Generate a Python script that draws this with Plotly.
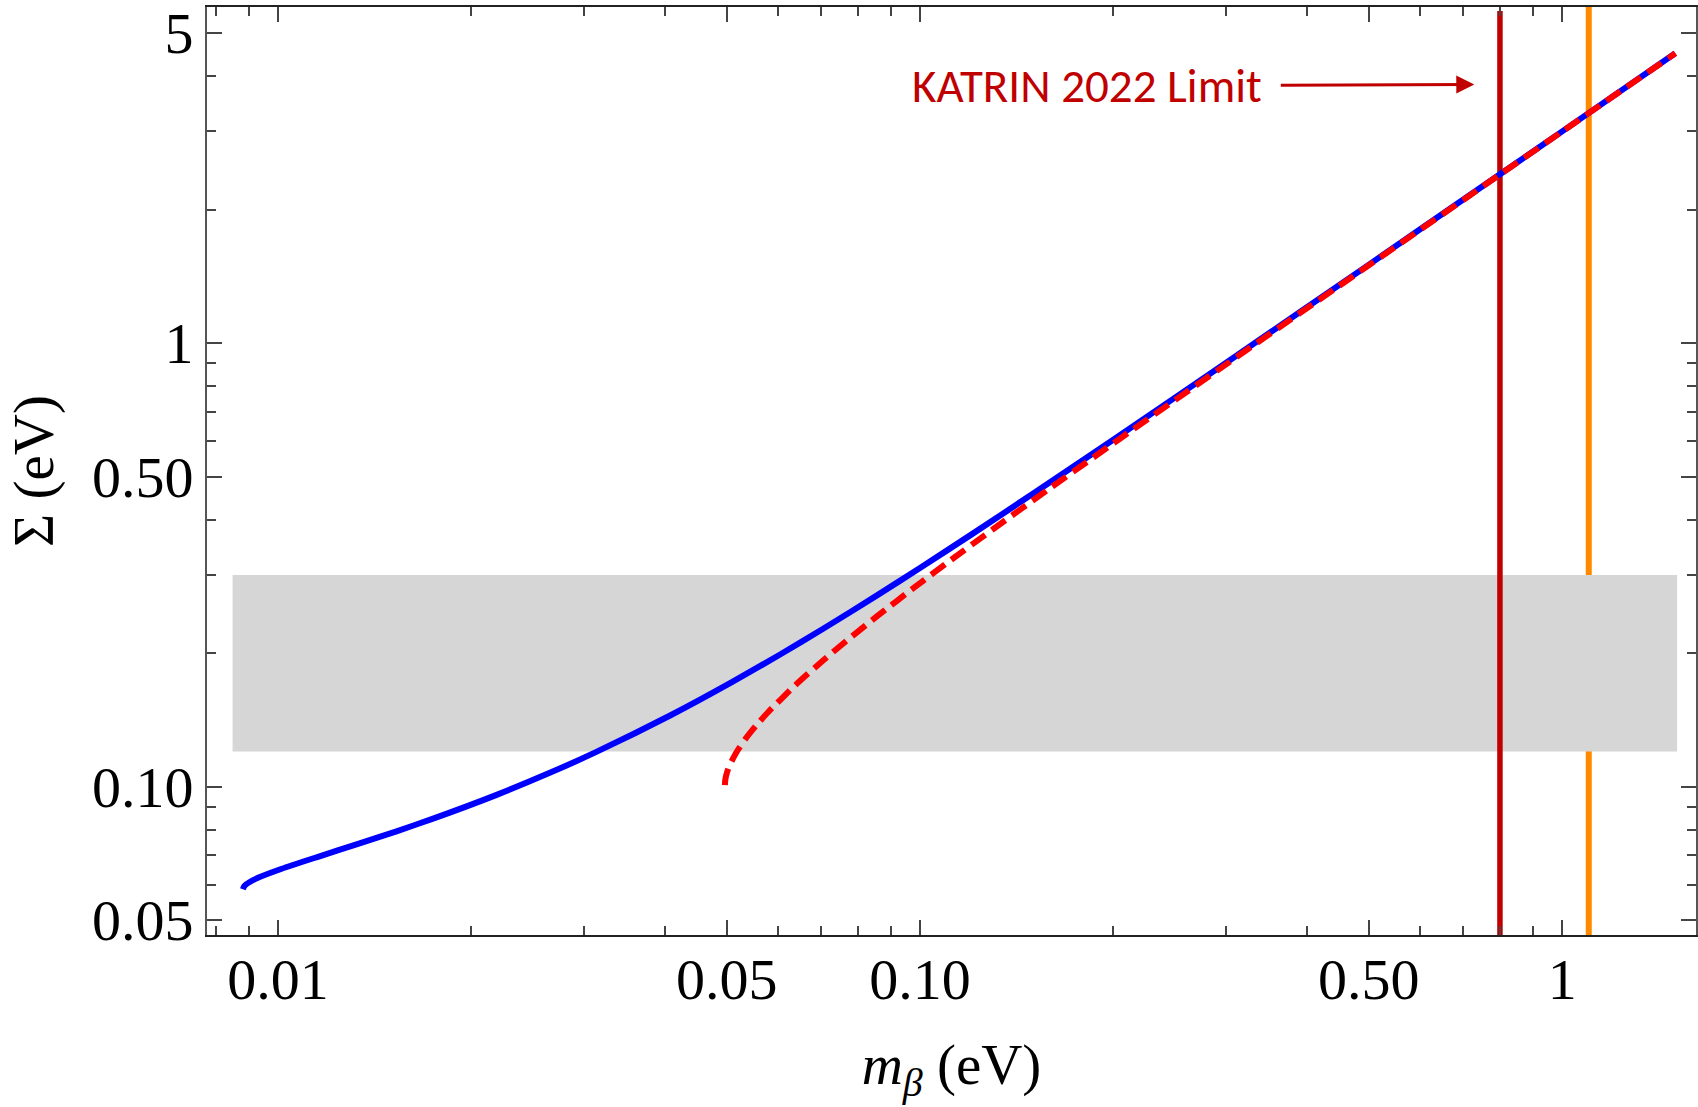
import math
import plotly.graph_objects as go

# ---- data ----
# Normal ordering: m_beta (eV) vs Sigma (eV)
m_beta_NO = [0.00882, 0.00887, 0.00904, 0.00931, 0.01014, 0.01158, 0.01333, 0.01530,
             0.01740, 0.02186, 0.02651, 0.03127, 0.04096, 0.05077, 0.06064, 0.07055,
             0.08546, 0.10039, 0.12032, 0.15026, 0.20019, 0.30013, 0.50008, 0.80005,
             1.00004, 1.50003]
sigma_NO = [0.05866, 0.05973, 0.06093, 0.06226, 0.06525, 0.06952, 0.07422, 0.07925,
            0.08452, 0.09565, 0.10736, 0.11954, 0.14496, 0.17146, 0.19872, 0.22656,
            0.26906, 0.31218, 0.37031, 0.45836, 0.60634, 0.90426, 1.50257, 2.40161,
            3.00129, 4.50086]

# Inverted ordering
m_beta_IO = [0.04968, 0.04969, 0.04972, 0.04980, 0.04993, 0.05024, 0.05067, 0.05189,
             0.05355, 0.05561, 0.05803, 0.06378, 0.07048, 0.07790, 0.08584, 0.09845,
             0.11166, 0.12988, 0.15801, 0.20608, 0.30409, 0.50246, 0.80154, 1.00123,
             1.50082]
sigma_IO = [0.10074, 0.10176, 0.10282, 0.10449, 0.10624, 0.10936, 0.11271, 0.12012,
            0.12840, 0.13747, 0.14726, 0.16865, 0.19195, 0.21668, 0.24248, 0.28261,
            0.32394, 0.38029, 0.46647, 0.61249, 0.90840, 1.50506, 2.40317, 3.00254,
            4.50169]

# Cosmology band (Sigma range) and its m_beta extent
band_sigma = [0.12, 0.30]
band_mbeta = [0.0085, 1.51]

# Vertical limits (eV)
katrin_2022_limit = 0.8
katrin_2019_limit = 1.1

# Axis ticks
x_tickvals = [0.01, 0.05, 0.10, 0.50, 1]
x_ticktext = ["0.01", "0.05", "0.10", "0.50", "1"]
x_minor = [0.008, 0.009, 0.02, 0.03, 0.04, 0.06, 0.07, 0.08, 0.09,
           0.2, 0.3, 0.4, 0.6, 0.7, 0.8, 0.9]
y_tickvals = [0.05, 0.10, 0.50, 1, 5]
y_ticktext = ["0.05", "0.10", "0.50", "1", "5"]
y_minor = [0.06, 0.07, 0.08, 0.09, 0.2, 0.3, 0.4, 0.6, 0.7, 0.8, 0.9, 2, 3, 4]

# ---- layout geometry ----
W, H = 1698, 1107
L, R, T, B = 207, 0, 7, 172
x_range = [-2.1104, 0.2084]
y_range = [-1.3348, 0.7577]
y_lo, y_hi = 10 ** y_range[0], 10 ** y_range[1]
y_red_top = 10 ** (y_range[1] - 4 / 443.5)

SERIF = "Liberation Serif, Times New Roman, serif"
DARKRED = "#C00000"

fig = go.Figure()

# orange line (behind the band)
fig.add_trace(go.Scatter(x=[katrin_2019_limit] * 2, y=[y_lo, y_hi], mode="lines",
                         line=dict(color="#FF8A00", width=6), hoverinfo="skip"))
# gray band
fig.add_trace(go.Scatter(
    x=[band_mbeta[0], band_mbeta[1], band_mbeta[1], band_mbeta[0], band_mbeta[0]],
    y=[band_sigma[0], band_sigma[0], band_sigma[1], band_sigma[1], band_sigma[0]],
    mode="lines", fill="toself", fillcolor="rgb(214,214,214)",
    line=dict(width=0, color="rgba(0,0,0,0)"), hoverinfo="skip"))
# KATRIN 2022 line
fig.add_trace(go.Scatter(x=[katrin_2022_limit] * 2, y=[y_lo, y_red_top], mode="lines",
                         line=dict(color=DARKRED, width=5.5), hoverinfo="skip"))
# curves
fig.add_trace(go.Scatter(x=m_beta_NO, y=sigma_NO, mode="lines",
                         line=dict(color="rgb(0,0,255)", width=6, shape="spline", smoothing=0.6)))
fig.add_trace(go.Scatter(x=m_beta_IO, y=sigma_IO, mode="lines",
                         line=dict(color="rgb(255,0,0)", width=6, dash="17px,8px",
                                   shape="spline", smoothing=0.6)))

axis_common = dict(
    type="log", showgrid=False, zeroline=False,
    showline=True, linewidth=2, mirror="allticks",
    ticks="inside", ticklen=15, tickwidth=2, tickcolor="#444",
    tickfont=dict(family=SERIF, size=58, color="black"),
)

fig.update_xaxes(
    **axis_common, range=x_range, linecolor="#222",
    tickvals=x_tickvals, ticktext=x_ticktext, ticklabelstandoff=-8,
    minor=dict(tickvals=x_minor, ticks="inside", ticklen=9, tickwidth=1.5, tickcolor="#444"),
    title=dict(text="<i>m</i><sub><i>β</i></sub> (eV)",
               font=dict(family=SERIF, size=57, color="black"), standoff=34),
)
fig.update_yaxes(
    **axis_common, range=y_range, linecolor="#555",
    tickvals=y_tickvals, ticktext=y_ticktext,
    minor=dict(tickvals=y_minor, ticks="inside", ticklen=9, tickwidth=1.5, tickcolor="#444"),
    title=dict(text="Σ (eV)", font=dict(family=SERIF, size=57, color="black"), standoff=20),
)

def px_to_paper_x(px):
    return (px - L) / (W - L - R)

def px_to_paper_y(py):
    return (H - B - py) / (H - B - T)

# KATRIN label with arrow pointing to the limit line
fig.add_annotation(xref="paper", yref="paper",
                   x=px_to_paper_x(1476), y=px_to_paper_y(84.5),
                   axref="pixel", ayref="pixel", ax=-(1476 - 1089), ay=1.5,
                   text="KATRIN 2022 Limit", showarrow=True,
                   font=dict(family="Carlito, Lato, Open Sans, sans-serif", size=47, color=DARKRED),
                   arrowhead=2, arrowsize=1.2, arrowwidth=3, arrowcolor=DARKRED,
                   standoff=0, borderpad=18)

fig.update_layout(
    width=W, height=H,
    margin=dict(l=L, r=R, t=T, b=B),
    paper_bgcolor="white", plot_bgcolor="white",
    showlegend=False,
)

fig.write_html("out.html")
